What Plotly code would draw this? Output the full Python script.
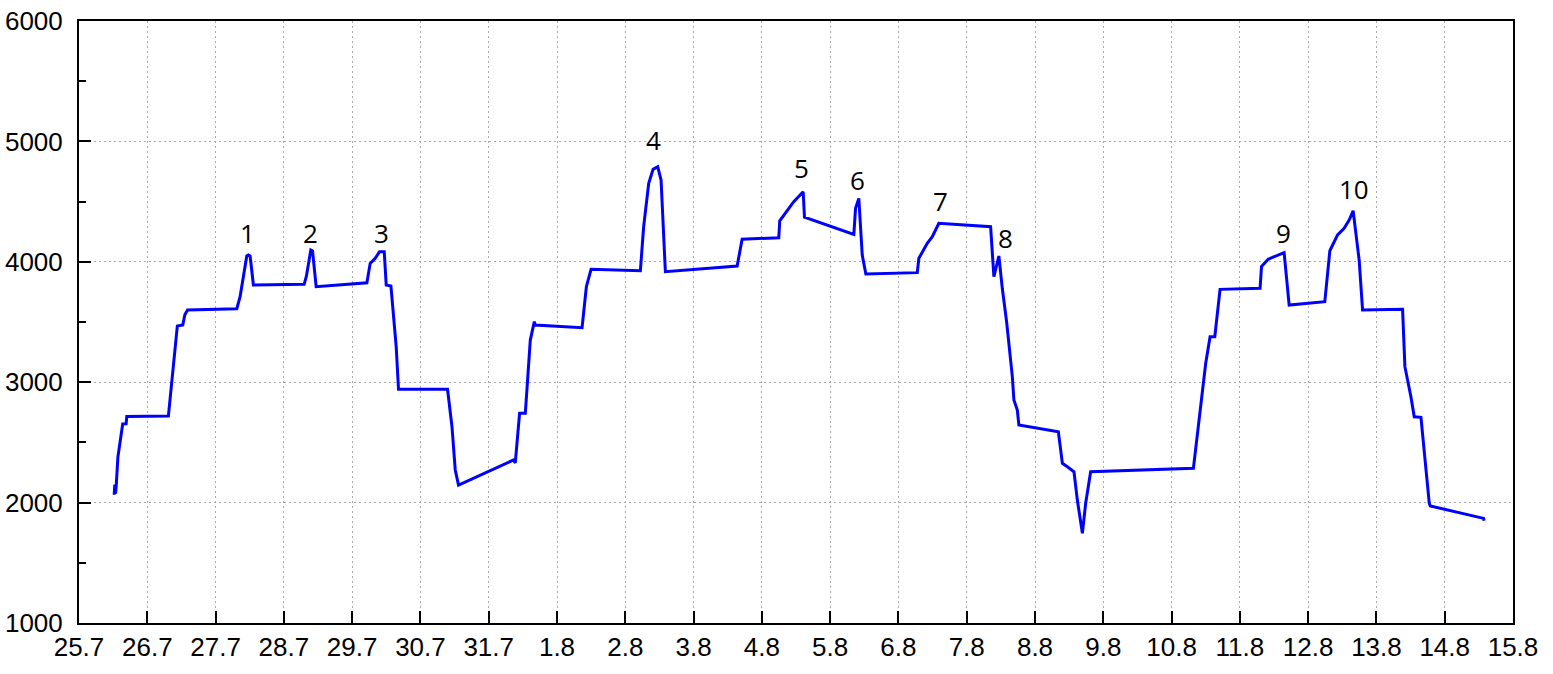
import plotly.graph_objects as go

# x: days elapsed since 25.7 00:00 ; y: measured value
day_offset = [
    0.515, 0.525, 0.535, 0.545, 0.57, 0.64, 0.69, 0.70, 1.309, 1.38, 1.44, 1.52, 1.55, 1.59,
    2.311, 2.359, 2.457, 2.48, 2.506, 2.554, 3.297, 3.33, 3.395, 3.42, 3.473, 4.216,
    4.264, 4.338, 4.401, 4.470, 4.499, 4.568, 4.606, 4.645, 4.679, 5.397, 5.462, 5.510,
    5.558, 6.364, 6.389, 6.452, 6.536, 6.609, 6.668, 6.682, 7.367, 7.430, 7.499, 8.221,
    8.269, 8.343, 8.407, 8.475, 8.524, 8.587, 9.638, 9.711, 10.248, 10.262, 10.467,
    10.605, 10.624, 11.347, 11.372, 11.420, 11.470, 11.523, 12.276, 12.299, 12.422,
    12.496, 12.592, 13.350, 13.398, 13.471, 13.521, 13.584, 13.668, 13.691, 13.741,
    13.764, 14.342, 14.401, 14.474, 14.571, 14.620, 14.694, 14.742, 14.815, 16.320,
    16.402, 16.500, 16.564, 16.633, 16.710, 17.296, 17.317, 17.414, 17.648, 17.688,
    17.722, 18.244, 18.284, 18.318, 18.431, 18.527, 18.601, 18.659, 18.747, 18.797,
    19.383, 19.417, 19.505, 19.554, 19.652, 19.774, 19.789, 20.570, 20.575,
]
values = [
    2065, 2150, 2075, 2140, 2380, 2653, 2655, 2715, 2719, 3100, 3467, 3475, 3560, 3600,
    3610, 3710, 4048, 4056, 4048, 3807, 3813, 3880, 4098, 4090, 3793, 3826,
    3987, 4029, 4084, 4084, 3807, 3799, 3572, 3295, 2941, 2941, 2630, 2271,
    2146, 2354, 2329, 2742, 2742, 3350, 3503, 3475, 3453, 3793, 3938, 3926,
    4292, 4652, 4768, 4790, 4679, 3918, 3965, 4187, 4200, 4341, 4499,
    4582, 4370, 4228, 4444, 4527, 4056, 3899, 3910, 4029, 4154,
    4208, 4320, 4292, 3876, 4048, 3780, 3503, 3046, 2852, 2769,
    2644, 2589, 2326, 2298, 2256, 2021, 1745, 1994, 2256, 2285,
    2686, 3157, 3378, 3378, 3771, 3780, 3960, 4021, 4076, 3835,
    3641, 3669, 3904, 4092, 4223, 4278, 4347, 4424, 4015, 3600,
    3606, 3129, 2879, 2713, 2708, 1994, 1972, 1869, 1850,
]

tick_labels = ["25.7", "26.7", "27.7", "28.7", "29.7", "30.7", "31.7", "1.8", "2.8", "3.8",
               "4.8", "5.8", "6.8", "7.8", "8.8", "9.8", "10.8", "11.8", "12.8", "13.8",
               "14.8", "15.8"]
tick_positions = list(range(len(tick_labels)))

peak_labels = ["1", "2", "3", "4", "5", "6", "7", "8", "9", "10"]
peak_x = [2.472, 3.385, 4.426, 8.411, 10.58, 11.40, 12.62, 13.57, 17.64, 18.67]
peak_y = [4237, 4239, 4237, 5012, 4779, 4679, 4505, 4198, 4239, 4605]

fig = go.Figure()
fig.add_trace(go.Scatter(x=day_offset, y=values, mode="lines",
                         line=dict(color="#0000ff", width=3), showlegend=False))

for lab, px, py in zip(peak_labels, peak_x, peak_y):
    fig.add_annotation(x=px, y=py, text=lab, showarrow=False, xanchor="center",
                       yanchor="middle", font=dict(family="Open Sans", size=26, color="black"))

axis_common = dict(showline=True, linewidth=2, linecolor="black", mirror=True,
                   ticks="inside", tickwidth=2, tickcolor="black", ticklen=12,
                   showgrid=True, gridcolor="#a8a8a8", griddash="2px,3px", gridwidth=1,
                   zeroline=False, automargin=False, ticklabeloverflow="allow",
                   tickfont=dict(family="Liberation Sans, Arial", size=26, color="black"))

fig.update_xaxes(range=[0, 21], tickvals=tick_positions, ticktext=tick_labels,
                 ticklabelstandoff=0, **axis_common)
fig.update_yaxes(range=[1000, 6000], tickvals=[1000, 2000, 3000, 4000, 5000, 6000],
                 ticklabelstandoff=9,
                 minor=dict(tickvals=[1500, 2500, 3500, 4500, 5500], ticks="inside",
                            ticklen=7, tickwidth=2, tickcolor="black", showgrid=False),
                 **axis_common)

fig.update_layout(width=1553, height=674, plot_bgcolor="white", paper_bgcolor="white",
                  margin=dict(l=79, r=40, t=21, b=51))

fig.write_html("out.html", config={"displayModeBar": False},
               post_script="document.body.style.margin='0';document.body.style.overflow='hidden';")
